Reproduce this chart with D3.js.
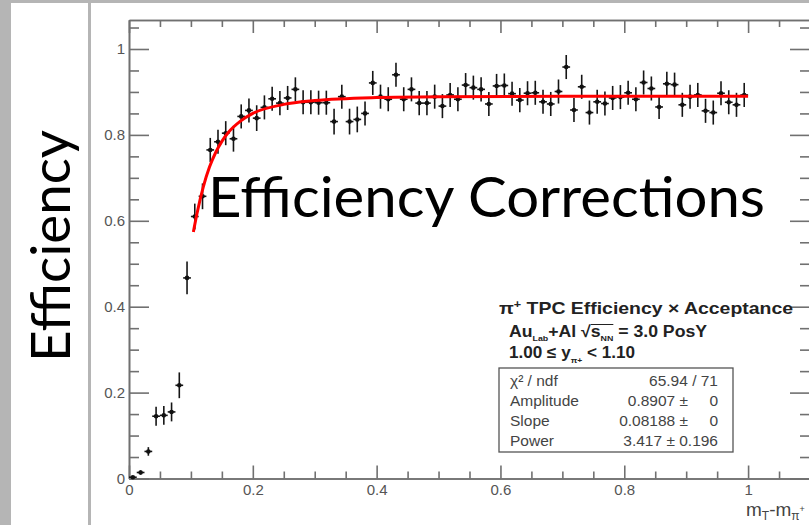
<!DOCTYPE html>
<html>
<head>
<meta charset="utf-8">
<script src="https://cdn.jsdelivr.net/npm/d3@7"></script>
<style>
  body { margin: 0; background: #b5b5b5; overflow: hidden; }
  svg { display: block; }
</style>
</head>
<body>
<div id="chart"></div>
<script>
//Dimensions of the slide picture
const width = 809;
const height = 525;

//Histogram bins (centers) and the efficiency read in each one
const binCenters = [
  0.00625, 0.01875, 0.03125, 0.04375, 0.05625, 0.06875, 0.08125, 0.09375, 0.10625, 0.11875,
  0.13125, 0.14375, 0.15625, 0.16875, 0.18125, 0.19375, 0.20625, 0.21875, 0.23125, 0.24375,
  0.25625, 0.26875, 0.28125, 0.29375, 0.30625, 0.31875, 0.33125, 0.34375, 0.35625, 0.36875,
  0.38125, 0.39375, 0.40625, 0.41875, 0.43125, 0.44375, 0.45625, 0.46875, 0.48125, 0.49375,
  0.50625, 0.51875, 0.53125, 0.54375, 0.55625, 0.56875, 0.58125, 0.59375, 0.60625, 0.61875,
  0.63125, 0.64375, 0.65625, 0.66875, 0.68125, 0.69375, 0.70625, 0.71875, 0.73125, 0.74375,
  0.75625, 0.76875, 0.78125, 0.79375, 0.80625, 0.81875, 0.83125, 0.84375, 0.85625, 0.86875,
  0.88125, 0.89375, 0.90625, 0.91875, 0.93125, 0.94375, 0.95625, 0.96875, 0.98125, 0.99375
];
const binHalfWidth = 0.00625;
const efficiency = [
  0.003, 0.014, 0.063, 0.145, 0.147, 0.155, 0.217, 0.467, 0.610, 0.657,
  0.765, 0.784, 0.804, 0.791, 0.843, 0.857, 0.839, 0.864, 0.884, 0.874,
  0.886, 0.906, 0.876, 0.876, 0.875, 0.875, 0.831, 0.889, 0.831, 0.836,
  0.850, 0.921, 0.889, 0.883, 0.940, 0.883, 0.906, 0.874, 0.874, 0.889,
  0.867, 0.893, 0.883, 0.916, 0.910, 0.906, 0.872, 0.914, 0.915, 0.896,
  0.881, 0.897, 0.898, 0.877, 0.872, 0.901, 0.958, 0.858, 0.912, 0.852,
  0.877, 0.873, 0.886, 0.888, 0.898, 0.883, 0.922, 0.908, 0.865, 0.919,
  0.917, 0.870, 0.889, 0.893, 0.856, 0.852, 0.897, 0.876, 0.870, 0.893
];
const effError = [
  0.003, 0.005, 0.010, 0.022, 0.022, 0.022, 0.030, 0.038, 0.030, 0.030,
  0.028, 0.028, 0.028, 0.030, 0.028, 0.028, 0.030, 0.028, 0.028, 0.028,
  0.028, 0.028, 0.028, 0.028, 0.028, 0.028, 0.030, 0.028, 0.030, 0.030,
  0.028, 0.028, 0.028, 0.028, 0.028, 0.028, 0.028, 0.028, 0.028, 0.028,
  0.028, 0.028, 0.028, 0.028, 0.028, 0.028, 0.028, 0.028, 0.028, 0.028,
  0.028, 0.028, 0.028, 0.028, 0.028, 0.028, 0.028, 0.028, 0.028, 0.028,
  0.028, 0.028, 0.028, 0.028, 0.028, 0.028, 0.028, 0.028, 0.028, 0.028,
  0.028, 0.028, 0.028, 0.028, 0.028, 0.028, 0.028, 0.028, 0.028, 0.028
];

//Red fit curve
const fitX = [0.104, 0.11, 0.12, 0.13, 0.14, 0.15, 0.16, 0.18, 0.2, 0.25, 0.3, 0.4, 0.5, 0.7, 1.0];
const fitY = [0.574, 0.618, 0.679, 0.725, 0.759, 0.785, 0.805, 0.832, 0.850, 0.871, 0.880, 0.887, 0.889, 0.890, 0.890];

//Tick labels
const xMajor = [0, 0.2, 0.4, 0.6, 0.8, 1];
const xLabels = ["0", "0.2", "0.4", "0.6", "0.8", "1"];
const yMajor = [0, 0.2, 0.4, 0.6, 0.8, 1];
const yLabels = ["0", "0.2", "0.4", "0.6", "0.8", "1"];

//Stats box
const statNames = ["χ² / ndf", "Amplitude", "Slope", "Power"];
const statValues = ["65.94 / 71", "0.8907 ±", "0.08188 ±", "3.417 ± 0.196"];
const statErrors = ["", "0", "0", ""];

const svg = d3.select("#chart").append("svg").attr("width", width).attr("height", height);

//Slide background: gray border, white side panel and white pad
svg.append("rect").attr("width", width).attr("height", height).attr("fill", "#b5b5b5");
svg.append("rect").attr("x", 11).attr("y", 3).attr("width", 77).attr("height", height).attr("fill", "#fff");
svg.append("rect").attr("x", 91).attr("y", 3).attr("width", width).attr("height", height).attr("fill", "#fff");

//Scales
const x = d3.scaleLinear().domain([0, 1.1]).range([129, 810]);
const y = d3.scaleLinear().domain([0, 1.0675]).range([478.5, 20]);

const notMajor = arr => v => !arr.some(m => Math.abs(m - v) < 1e-6);
const xMinor = d3.range(0, 1.1, 0.05).filter(notMajor(xMajor));
const yMinor = d3.range(0, 1.07, 0.05).filter(notMajor(yMajor));

const axisColor = "#707070";
const labelFont = "'Liberation Sans', Arial, sans-serif";

const styleAxis = g => {
  g.selectAll("path.domain").attr("stroke", axisColor).attr("stroke-width", 1.6);
  g.selectAll(".tick line").attr("stroke", axisColor).attr("stroke-width", 1.6);
  g.selectAll(".tick text").attr("fill", "#555").style("font-family", labelFont).style("font-size", "15px");
};

//Bottom axis
svg.append("g").attr("transform", `translate(0, ${y(0)})`)
  .call(d3.axisBottom(x).tickValues(xMajor).tickSize(-13).tickSizeOuter(0).tickPadding(6).tickFormat((d, i) => xLabels[i]))
  .call(styleAxis);
svg.append("g").attr("transform", `translate(0, ${y(0)})`)
  .call(d3.axisBottom(x).tickValues(xMinor).tickSize(-7).tickSizeOuter(0).tickFormat(""))
  .call(styleAxis);

//Top axis
svg.append("g").attr("transform", `translate(0, ${y.range()[1]})`)
  .call(d3.axisTop(x).tickValues(xMajor).tickSize(-13).tickSizeOuter(0).tickFormat(""))
  .call(styleAxis);
svg.append("g").attr("transform", `translate(0, ${y.range()[1]})`)
  .call(d3.axisTop(x).tickValues(xMinor).tickSize(-7).tickSizeOuter(0).tickFormat(""))
  .call(styleAxis);

//Left axis
svg.append("g").attr("transform", `translate(${x(0)}, 0)`)
  .call(d3.axisLeft(y).tickValues(yMajor).tickSize(-20).tickSizeOuter(0).tickPadding(4).tickFormat((d, i) => yLabels[i]))
  .call(styleAxis);
svg.append("g").attr("transform", `translate(${x(0)}, 0)`)
  .call(d3.axisLeft(y).tickValues(yMinor).tickSize(-10).tickSizeOuter(0).tickFormat(""))
  .call(styleAxis);

//Right axis
svg.append("g").attr("transform", `translate(${x.range()[1]}, 0)`)
  .call(d3.axisRight(y).tickValues(yMajor).tickSize(-20).tickSizeOuter(0).tickFormat(""))
  .call(styleAxis);
svg.append("g").attr("transform", `translate(${x.range()[1]}, 0)`)
  .call(d3.axisRight(y).tickValues(yMinor).tickSize(-10).tickSizeOuter(0).tickFormat(""))
  .call(styleAxis);

//x axis title, cut by the slide edge
const xTitle = svg.append("text").attr("x", 746).attr("y", 516)
  .attr("fill", "#444").style("font-family", labelFont).style("font-size", "19px");
xTitle.append("tspan").text("m");
xTitle.append("tspan").attr("dy", 4).style("font-size", "12px").text("T");
xTitle.append("tspan").attr("dy", -4).text("-m");
xTitle.append("tspan").attr("dy", 4).style("font-size", "12px").text("π");
xTitle.append("tspan").attr("dy", -8).style("font-size", "9px").text("+");

//Data points with error bars
const points = binCenters.map((c, i) => ({ x: c, y: efficiency[i], e: effError[i] }));
const pts = svg.append("g").attr("stroke", "#151515").attr("stroke-width", 1.6);
pts.selectAll("line.v").data(points).enter().append("line").attr("class", "v")
  .attr("x1", d => x(d.x)).attr("x2", d => x(d.x))
  .attr("y1", d => y(d.y - d.e)).attr("y2", d => y(d.y + d.e));
pts.selectAll("line.h").data(points).enter().append("line").attr("class", "h")
  .attr("x1", d => x(d.x - binHalfWidth)).attr("x2", d => x(d.x + binHalfWidth))
  .attr("y1", d => y(d.y)).attr("y2", d => y(d.y));
svg.append("g").selectAll("circle").data(points).enter().append("circle")
  .attr("cx", d => x(d.x)).attr("cy", d => y(d.y)).attr("r", 2.3).attr("fill", "#111");

//Fit curve
const fitLine = d3.line().x(d => x(d[0])).y(d => y(d[1])).curve(d3.curveMonotoneX);
svg.append("path").datum(fitX.map((v, i) => [v, fitY[i]]))
  .attr("d", fitLine).attr("fill", "none").attr("stroke", "#ff0000").attr("stroke-width", 3);

//Legend text
const boldFont = "'Liberation Sans', Arial, sans-serif";
const title = svg.append("text").attr("x", 499).attr("y", 314).attr("fill", "#222")
  .style("font-family", boldFont).style("font-weight", "bold").style("font-size", "17px")
  .attr("textLength", 294).attr("lengthAdjust", "spacingAndGlyphs");
title.append("tspan").text("π");
title.append("tspan").attr("dy", -6).style("font-size", "11px").text("+");
title.append("tspan").attr("dy", 6).text(" TPC Efficiency × Acceptance");

const line2 = svg.append("text").attr("x", 509).attr("y", 337).attr("fill", "#222")
  .style("font-family", boldFont).style("font-weight", "bold").style("font-size", "16px")
  .attr("textLength", 198).attr("lengthAdjust", "spacingAndGlyphs");
line2.append("tspan").text("Au");
line2.append("tspan").attr("dy", 4).style("font-size", "8px").text("Lab");
line2.append("tspan").attr("dy", -4).text("+Al √");
line2.append("tspan").text("s");
line2.append("tspan").attr("dy", 4).style("font-size", "8px").text("NN");
line2.append("tspan").attr("dy", -4).text(" = 3.0 PosY");
//overline of the square root
const l2 = line2.node();
svg.append("line")
  .attr("x1", l2.getStartPositionOfChar(10).x).attr("x2", l2.getEndPositionOfChar(12).x)
  .attr("y1", 324.5).attr("y2", 324.5).attr("stroke", "#222").attr("stroke-width", 1);

const line3 = svg.append("text").attr("x", 509).attr("y", 358).attr("fill", "#222")
  .style("font-family", boldFont).style("font-weight", "bold").style("font-size", "16px")
  .attr("textLength", 126).attr("lengthAdjust", "spacingAndGlyphs");
line3.append("tspan").text("1.00 ≤ y");
line3.append("tspan").attr("dy", 5).style("font-size", "8px").text("π+");
line3.append("tspan").attr("dy", -5).text(" < 1.10");

//Stats box
svg.append("rect").attr("x", 499).attr("y", 368).attr("width", 234).attr("height", 84)
  .attr("fill", "#fff").attr("stroke", "#555").attr("stroke-width", 1.3);
const stats = svg.append("g").attr("fill", "#444").style("font-family", labelFont).style("font-size", "15.5px");
stats.selectAll("text.name").data(statNames).enter().append("text").attr("class", "name")
  .attr("x", 510).attr("y", (d, i) => 386 + i * 20).text(d => d);
stats.selectAll("text.val").data(statValues).enter().append("text").attr("class", "val")
  .attr("x", (d, i) => statErrors[i] ? 688 : 718).attr("y", (d, i) => 386 + i * 20)
  .attr("text-anchor", "end").text(d => d);
stats.selectAll("text.err").data(statErrors).enter().append("text").attr("class", "err")
  .attr("x", 718).attr("y", (d, i) => 386 + i * 20).attr("text-anchor", "end").text(d => d);

//Slide overlay texts
svg.append("text").attr("x", 208).attr("y", 217).attr("fill", "#000")
  .style("font-family", "Lato, 'Open Sans', sans-serif").style("font-size", "57px")
  .attr("textLength", 557).attr("lengthAdjust", "spacingAndGlyphs")
  .text("Efficiency Corrections");

svg.append("text").attr("transform", "translate(70, 246) rotate(-90)")
  .attr("text-anchor", "middle").attr("fill", "#000")
  .style("font-family", "Lato, 'Open Sans', sans-serif").style("font-size", "54px")
  .attr("textLength", 232).attr("lengthAdjust", "spacingAndGlyphs")
  .text("Efficiency");
</script>
</body>
</html>
